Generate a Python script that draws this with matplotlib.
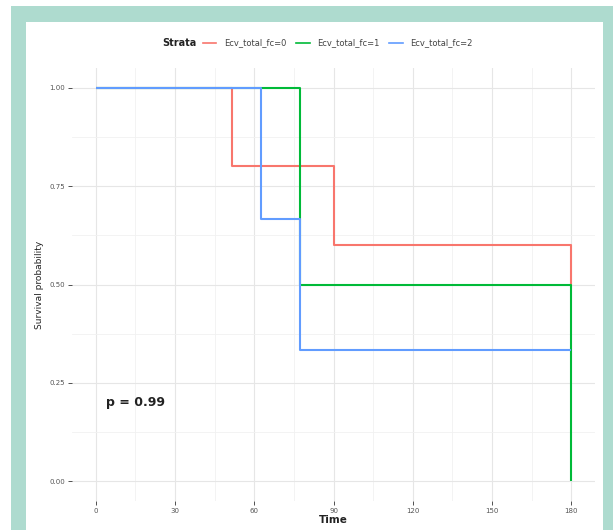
import matplotlib
matplotlib.use("Agg")
import matplotlib.pyplot as plt
from matplotlib.patches import Rectangle
from matplotlib.lines import Line2D
import numpy as np

# ---- data ----
strata_labels = ["Ecv_total_fc=0", "Ecv_total_fc=1", "Ecv_total_fc=2"]
strata_colors = ["#F8766D", "#00BA38", "#619CFF"]
time_0 = [0, 51.5, 90, 180]
surv_0 = [1.0, 0.8, 0.6, 0.5]
time_1 = [0, 77.5, 180]
surv_1 = [1.0, 0.5, 0.0]
time_2 = [0, 62.5, 77.5, 180]
surv_2 = [1.0, 0.667, 0.333, 0.333]
x_ticks = [0, 30, 60, 90, 120, 150, 180]
y_ticks = [0.00, 0.25, 0.50, 0.75, 1.00]
y_tick_labels = ["0.00", "0.25", "0.50", "0.75", "1.00"]
pval_text = "p = 0.99"

W, H = 613, 530
fig = plt.figure(figsize=(W / 100, H / 100), dpi=100, facecolor="white")

# frame: teal border with white inner panel
teal = "#aedbcf"
fig.patches.append(Rectangle((11 / W, 0), 1 - 11 / W, 1 - 6 / H, transform=fig.transFigure,
                             facecolor=teal, edgecolor="none", zorder=-2))
fig.patches.append(Rectangle((26 / W, 0), (603 - 26) / W, 1 - 22 / H, transform=fig.transFigure,
                             facecolor="white", edgecolor="none", zorder=-1))

ax = fig.add_axes([72 / W, 1 - 501 / H, (595 - 72) / W, (501 - 68) / H])
ax.set_zorder(1)
ax.set_facecolor("white")
ax.set_xlim(-9, 189)
ax.set_ylim(-0.05, 1.05)

# grid
for xv in np.arange(0, 181, 30):
    ax.axvline(xv, color="#e6e6e6", lw=0.8, zorder=0)
for xv in np.arange(15, 181, 30):
    ax.axvline(xv, color="#f1f1f1", lw=0.6, zorder=0)
for yv in y_ticks:
    ax.axhline(yv, color="#e6e6e6", lw=0.8, zorder=0)
for yv in [0.125, 0.375, 0.625, 0.875]:
    ax.axhline(yv, color="#f1f1f1", lw=0.6, zorder=0)

series = [(time_0, surv_0), (time_1, surv_1), (time_2, surv_2)]
for (t, s), c in zip(series, strata_colors):
    ax.step(t, s, where="post", color=c, lw=1.5, zorder=3, solid_capstyle="butt")

for sp in ax.spines.values():
    sp.set_visible(False)

ax.set_xticks(x_ticks)
ax.set_xticklabels([str(v) for v in x_ticks])
ax.set_yticks(y_ticks)
ax.set_yticklabels(y_tick_labels)
ax.tick_params(axis="both", length=3, width=0.6, color="#333333", labelsize=5,
               labelcolor="#555555", pad=2)

ax.set_xlabel("Time", fontsize=7.5, fontweight="bold", color="#222222", labelpad=1)
ax.set_ylabel("Survival probability", fontsize=6.5, color="#222222", labelpad=4)

ax.text(4, 0.2, pval_text, fontsize=9, fontweight="bold", color="#222222",
        ha="left", va="center")

# legend on top
fig.text(179 / W, 1 - 43 / H, "Strata", fontsize=7, fontweight="bold",
         ha="center", va="center", color="#222222")
handles = [Line2D([], [], color=c, lw=1.2) for c in strata_colors]
leg = fig.legend(handles, strata_labels, loc="center left", bbox_to_anchor=(203 / W, 1 - 43 / H),
                 ncol=3, frameon=False, fontsize=6, handlelength=1.6, handletextpad=0.9,
                 columnspacing=1.2, borderpad=0, borderaxespad=0,
                 labelcolor="#444444")
leg.set_zorder(2)

fig.savefig("out.png", dpi=100, facecolor="white")
